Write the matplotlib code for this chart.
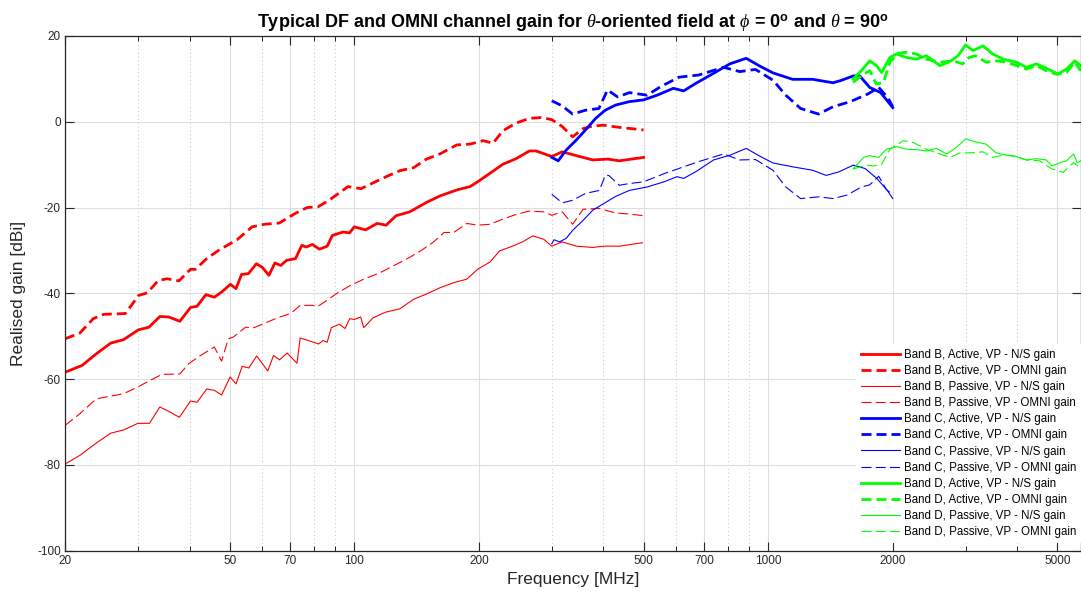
import matplotlib
matplotlib.use("Agg")
import matplotlib.pyplot as plt
from matplotlib.ticker import FixedLocator, NullFormatter

plt.rcParams["font.family"] = ["Liberation Sans", "DejaVu Sans"]
plt.rcParams["mathtext.fontset"] = "custom"
plt.rcParams["mathtext.it"] = "Liberation Serif:italic"
plt.rcParams["mathtext.rm"] = "Liberation Sans"
plt.rcParams["mathtext.bf"] = "Liberation Sans:bold"
plt.rcParams["axes.unicode_minus"] = False

# ---- Band B (20 - 500 MHz) ----
b_act_ns_f = [20, 22, 23.8, 25.8, 27.7, 30.1, 31.9, 33.9, 35.6, 37.9, 40.2, 41.7, 43.8, 45.9, 47.8,
              50.2, 51.8, 53.4, 55.5, 58, 59.9, 62.2, 64.3, 66.4, 68.6, 72.1, 74.7, 76.5, 79.2, 82.4,
              86, 88.5, 93.9, 97.4, 100, 106.5, 113.5, 119.4, 126.2, 136.1, 149.4, 161, 176.8, 190.6,
              200, 212.8, 228.5, 246, 265, 275, 300, 318, 344, 377, 410, 437, 500]
b_act_ns_g = [-58.4, -56.8, -54.1, -51.6, -50.8, -48.5, -47.9, -45.4, -45.5, -46.5, -43.3, -43.0, -40.3,
              -40.9, -39.7, -37.9, -38.9, -35.6, -35.4, -33.1, -33.9, -35.8, -32.9, -33.5, -32.3, -31.9,
              -28.8, -29.2, -28.6, -29.7, -29.0, -26.5, -25.7, -25.9, -24.5, -25.2, -23.7, -24.1, -21.9,
              -21.0, -18.8, -17.3, -15.9, -15.1, -13.8, -12.0, -9.9, -8.6, -6.8, -6.8, -8.1, -7.0, -7.9,
              -8.9, -8.7, -9.1, -8.3]

b_act_omni_f = [20, 21.7, 23.4, 24.8, 28.0, 30.1, 31.6, 33.6, 35.3, 37.7, 40.2, 41.3, 44.0, 47.3, 52.1,
                56.6, 60.6, 65.9, 71.9, 76.9, 81.8, 86.9, 96.6, 103.8, 111.3, 119.4, 128.9, 139.1, 149.4,
                161, 176.8, 190.6, 204.8, 216.4, 228.5, 246, 265, 283, 300, 318, 337, 357, 377, 400,
                437, 500]
b_act_omni_g = [-50.6, -49.3, -45.9, -44.9, -44.7, -40.5, -39.9, -37.0, -36.6, -37.1, -34.4, -34.4, -31.9,
                -29.8, -27.5, -24.5, -23.9, -23.6, -21.4, -20.0, -19.8, -18.3, -15.1, -15.6, -14.2, -12.8,
                -11.4, -10.7, -8.7, -7.5, -5.4, -5.2, -4.4, -5.0, -2.1, -0.3, 0.8, 1.0, 0.5, -1.1, -3.5,
                -1.6, -1.0, -0.8, -1.3, -1.9]

b_pas_ns_f = [20, 21.7, 23.8, 25.8, 27.8, 30, 32, 33.9, 35.6, 37.8, 40.2, 41.7, 44, 45.9, 47.8, 50.1,
              51.8, 53.6, 55.6, 58.1, 61.8, 63.8, 66, 68.8, 72.7, 74, 78, 82, 84, 86, 88, 92, 95, 97.5,
              100, 103.6, 105.4, 111, 119, 128.9, 139, 149, 161, 174, 187, 198.5, 212.8, 224.5, 241,
              255, 270, 287, 300, 318, 344, 377, 400, 437, 497]
b_pas_ns_g = [-79.8, -77.8, -74.9, -72.6, -71.8, -70.3, -70.3, -66.5, -67.5, -68.9, -65.1, -65.4, -62.3,
              -62.6, -63.7, -59.5, -61.1, -57.0, -57.4, -54.6, -58.1, -54.5, -55.5, -53.9, -56.3, -50.4,
              -51.1, -51.8, -51.0, -51.4, -48.0, -47.2, -48.2, -45.9, -46.1, -45.5, -48.0, -45.7, -44.4,
              -43.6, -41.4, -40.2, -38.7, -37.5, -36.7, -34.4, -32.7, -30.1, -29.0, -28.0, -26.6, -27.4,
              -29.0, -28.0, -29.0, -29.3, -29.0, -29.0, -28.2]

b_pas_omni_f = [20, 21.7, 23.8, 27.7, 29.9, 32.1, 34.3, 37.9, 39.8, 42.5, 45.9, 47.8, 49.6, 51.0, 54.6,
                57.2, 61.0, 65.2, 70.2, 74.0, 79.0, 81.8, 86.0, 91.1, 98.1, 105.4, 115.3, 124.2, 134.4,
                144.7, 155.5, 164.8, 174, 187, 198.5, 212.8, 228.5, 246, 265, 287, 300, 318, 337, 357,
                390, 425, 470, 500]
b_pas_omni_g = [-70.8, -68.1, -64.6, -63.4, -61.9, -60.3, -58.9, -58.8, -56.4, -54.5, -52.5, -55.8, -50.6,
                -50.2, -47.9, -48.0, -46.9, -45.7, -44.7, -42.8, -42.8, -43.0, -41.6, -39.9, -38.1, -36.7,
                -35.2, -33.6, -31.9, -30.1, -28.0, -25.8, -25.8, -23.7, -24.1, -23.9, -22.7, -21.6, -20.8,
                -21.0, -21.8, -21.0, -23.9, -20.4, -20.2, -21.2, -21.6, -21.9]

# ---- Band C (300 - 2000 MHz) ----
c_act_ns_f = [300, 311, 325, 343.5, 362, 383, 404, 428, 462, 500, 539, 590, 625, 667, 738, 808, 885,
              954, 1027, 1146, 1281, 1434, 1497, 1606, 1664, 1760, 1870, 2000]
c_act_ns_g = [-8.3, -9.1, -6.6, -4.3, -1.9, 0.8, 2.7, 3.9, 4.7, 5.1, 6.2, 7.8, 7.2, 8.9, 11.3, 13.5, 14.8,
              13.0, 11.4, 9.9, 9.9, 9.1, 9.6, 10.7, 10.7, 8.0, 6.8, 3.3]

c_act_omni_f = [300, 318, 337, 362, 390, 409, 433, 462, 510, 550, 609, 679, 780, 854, 932, 1027, 1103,
                1198, 1324, 1434, 1580, 1743, 1850, 1950, 2000]
c_act_omni_g = [4.9, 3.7, 1.8, 2.7, 3.1, 7.4, 5.8, 6.8, 6.2, 8.2, 10.4, 10.9, 12.7, 11.7, 12.2, 9.7, 6.2,
                3.1, 1.8, 3.5, 4.7, 6.5, 8.0, 5.5, 3.5]

c_pas_ns_f = [300, 304, 313, 325, 337, 357, 377, 400, 428, 462, 510, 560, 602, 625, 667, 738, 808, 885,
              954, 1027, 1146, 1281, 1380, 1480, 1606, 1715, 1830, 1940, 2000]
c_pas_ns_g = [-28.4, -27.5, -28.0, -27.2, -25.3, -23.0, -20.6, -19.1, -17.4, -16.0, -15.2, -14.0, -12.8,
              -13.2, -11.7, -8.9, -7.8, -6.2, -8.0, -9.6, -10.5, -11.3, -12.5, -11.7, -10.1, -10.9, -13.2,
              -16.0, -17.9]

c_pas_omni_f = [300, 318, 337, 362, 391, 404, 412, 437, 462, 500, 560, 625, 679, 780, 854, 932, 1027,
                1103, 1198, 1324, 1434, 1550, 1680, 1760, 1850, 1930, 2000]
c_pas_omni_g = [-16.9, -18.9, -18.3, -16.7, -16.0, -12.5, -12.5, -14.8, -14.4, -14.0, -12.1, -10.5, -9.3,
                -7.5, -8.9, -8.8, -11.3, -15.2, -17.9, -17.5, -17.9, -17.1, -15.2, -14.7, -12.7, -15.8,
                -17.0]

# ---- Band D (1600 - 6000 MHz) ----
d_act_ns_f = [1604, 1664, 1760, 1826, 1880, 1968, 2043, 2160, 2281, 2410, 2600, 2746, 2876, 3000, 3127,
              3303, 3491, 3692, 3980, 4207, 4447, 4700, 5016, 5260, 5508, 5690]
d_act_ns_g = [10.0, 11.5, 14.2, 13.1, 11.5, 15.0, 15.8, 15.0, 14.6, 15.4, 13.1, 14.0, 15.4, 17.9, 16.6,
              17.7, 15.8, 14.6, 13.9, 12.7, 13.5, 12.5, 11.1, 12.3, 14.2, 13.1]

d_act_omni_f = [1604, 1700, 1760, 1826, 1900, 1968, 2062, 2160, 2281, 2410, 2600, 2800, 2950, 3060, 3170,
                3360, 3550, 3760, 3980, 4207, 4447, 4700, 4970, 5260, 5508, 5690]
d_act_omni_g = [9.2, 11.1, 11.9, 8.8, 9.2, 13.9, 16.0, 16.2, 15.8, 14.6, 13.9, 14.2, 13.5, 15.0, 15.4,
                13.9, 14.2, 13.9, 13.1, 12.3, 13.1, 11.9, 11.1, 11.5, 13.9, 11.9]

d_pas_ns_f = [1604, 1700, 1760, 1850, 1930, 2043, 2160, 2281, 2410, 2550, 2700, 2850, 3000, 3170, 3360,
              3550, 3760, 3980, 4207, 4447, 4700, 4850, 5050, 5260, 5470, 5580, 5690]
d_pas_ns_g = [-11.0, -8.3, -7.9, -8.3, -6.4, -5.8, -6.4, -6.5, -6.8, -6.2, -7.5, -6.0, -4.0, -4.7, -5.2,
              -7.2, -7.8, -8.1, -8.9, -8.6, -8.9, -10.3, -9.6, -9.1, -7.5, -9.5, -9.1]

d_pas_omni_f = [1604, 1730, 1795, 1880, 1968, 2120, 2240, 2410, 2600, 2746, 2900, 3127, 3300, 3490, 3690,
                3900, 4207, 4530, 4850, 5160, 5470, 5690]
d_pas_omni_g = [-11.0, -10.1, -10.3, -9.9, -6.4, -4.4, -4.8, -6.4, -7.5, -8.3, -7.3, -7.2, -7.0, -8.3,
                -7.8, -7.9, -8.9, -9.1, -11.0, -11.8, -9.5, -10.9]

x_major = [20, 50, 70, 100, 200, 500, 700, 1000, 2000, 5000]
x_minor = [30, 40, 60, 80, 90, 300, 400, 600, 800, 900, 3000, 4000]
y_ticks = [-100, -80, -60, -40, -20, 0, 20]

series = [
    (b_act_ns_f, b_act_ns_g, "red", "thick", "-", "Band B, Active, VP - N/S gain"),
    (b_act_omni_f, b_act_omni_g, "red", "thick", "--", "Band B, Active, VP - OMNI gain"),
    (b_pas_ns_f, b_pas_ns_g, "red", "thin", "-", "Band B, Passive, VP - N/S gain"),
    (b_pas_omni_f, b_pas_omni_g, "red", "thin", "--", "Band B, Passive, VP - OMNI gain"),
    (c_act_ns_f, c_act_ns_g, "blue", "thick", "-", "Band C, Active, VP - N/S gain"),
    (c_act_omni_f, c_act_omni_g, "blue", "thick", "--", "Band C, Active, VP - OMNI gain"),
    (c_pas_ns_f, c_pas_ns_g, "blue", "thin", "-", "Band C, Passive, VP - N/S gain"),
    (c_pas_omni_f, c_pas_omni_g, "blue", "thin", "--", "Band C, Passive, VP - OMNI gain"),
    (d_act_ns_f, d_act_ns_g, "#00ff00", "thick", "-", "Band D, Active, VP - N/S gain"),
    (d_act_omni_f, d_act_omni_g, "#00ff00", "thick", "--", "Band D, Active, VP - OMNI gain"),
    (d_pas_ns_f, d_pas_ns_g, "#00ff00", "thin", "-", "Band D, Passive, VP - N/S gain"),
    (d_pas_omni_f, d_pas_omni_g, "#00ff00", "thin", "--", "Band D, Passive, VP - OMNI gain"),
]

W, H = 1081, 597
fig = plt.figure(figsize=(W / 100, H / 100), dpi=100)
ax = fig.add_axes([65 / W, 46.3 / H, (W - 65) / W, (561 - 46.3) / H])

for f, g, color, weight, style, label in series:
    if weight == "thick":
        lw, dashes = 2.0, (3.6, 1.8)
    else:
        lw, dashes = 0.8, (9.0, 3.8)
    line, = ax.plot(f, g, color=color, lw=lw, ls=style, label=label)
    if style == "--":
        line.set_dashes(dashes)

ax.set_xscale("log")
ax.set_xlim(20, 5700)
ax.set_ylim(-100, 20)

ax.xaxis.set_major_locator(FixedLocator(x_major))
ax.xaxis.set_minor_locator(FixedLocator(x_minor))
ax.xaxis.set_minor_formatter(NullFormatter())
ax.set_xticklabels([str(v) for v in x_major])
ax.set_yticks(y_ticks)

ax.grid(True, which="major", color="#dedede", lw=0.8, ls="-")
ax.grid(True, which="minor", axis="x", color="#c4c4c4", lw=0.7, ls=(0, (1, 3)))
ax.set_axisbelow(True)

ink = "#262626"
for side in ax.spines.values():
    side.set_color(ink)
    side.set_linewidth(0.9)
ax.tick_params(which="both", direction="in", top=True, right=True, colors=ink,
               labelsize=8.5, pad=3)
ax.tick_params(which="major", length=6.5, width=0.8)
ax.tick_params(which="minor", length=3.5, width=0.7)

ax.set_xlabel("Frequency [MHz]", fontsize=12.5, color=ink, labelpad=4)
ax.set_ylabel("Realised gain [dBi]", fontsize=12.5, color=ink, labelpad=8)
ax.set_title(r"Typical DF and OMNI channel gain for $\theta$-oriented field at "
             r"$\phi$ = 0$^\mathbf{o}$ and $\theta$ = 90$^\mathbf{o}$",
             fontsize=13.0, fontweight="bold", pad=6)

leg = ax.legend(loc="upper left", bbox_to_anchor=((856 - 65) / (W - 65), (550.7 - 344) / 514.7),
                fontsize=8.3, frameon=True, fancybox=False, edgecolor="none", facecolor="white",
                framealpha=1.0, handlelength=3.4, handletextpad=0.35, labelspacing=0.36,
                borderpad=0.4, borderaxespad=0.0)
for txt in leg.get_texts():
    txt.set_color("#000000")

fig.savefig("out.png", dpi=100)
